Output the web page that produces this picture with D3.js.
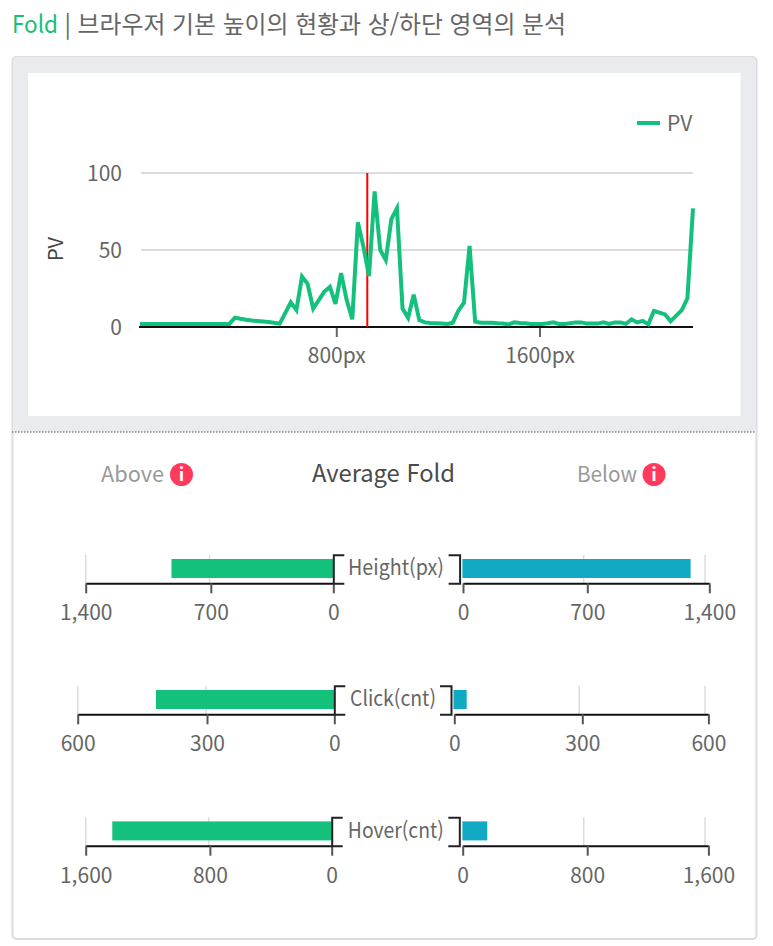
<!DOCTYPE html>
<html lang="ko">
<head>
<meta charset="utf-8">
<script src="https://cdnjs.cloudflare.com/ajax/libs/d3/7.9.0/d3.min.js"></script>
<style>
html,body{margin:0;padding:0;background:#fff;overflow:hidden}
svg{display:block}
text{font-family:"Noto Sans CJK KR","Noto Sans",sans-serif;fill:#666}
</style>
</head>
<body>
<svg id="c" width="773" height="946"></svg>
<script>
// ---- data ----
const titleAccent = "Fold";
const titleRest = "| 브라우저 기본 높이의 현황과 상/하단 영역의 분석";
const pv = [2,2,2,2,2,2,2,2,2,2,2,2,2,2,2,2,2,6,5.3,4.7,4.2,3.9,3.6,3.2,2.7,2.2,9,16,11,32.7,28,12,17.5,23,26,15,35,17.5,5,68,52,33,88,50,43.5,70,77,12,6,21,4.5,3,2.6,2.4,2.2,2,2.8,10.6,15.8,52.6,3.5,2.8,2.8,2.8,2.4,2.2,1.7,3,2.6,2.4,2,2,2,2.4,3,2,2,2.4,3,3,2.2,2.2,2.2,3,2,3,3,2,5,3,4,1.7,10.4,9.3,8.2,3.7,7.4,11,18.6,77];
const seriesName = "PV";
const yTicks = [0,50,100];
const xTickHeights = [800,1600];
const foldHeight = 922;
const categories = ["Height(px)","Click(cnt)","Hover(cnt)"];
const aboveValues = [915,417,1427];
const belowValues = [1317,31.5,164];
const axisMax = [1400,600,1600];

// ---- layout ----
const green="#13c07c", blue="#12a9c2", grid="#dcdcdc";
const svg=d3.select("#c");
const font=(s,size,fill,weight)=>s.style("font-size",size+"px").style("fill",fill).style("font-weight",weight||400);

// title
const t=svg.append("text").attr("x",12).attr("y",33);
font(t,24,"#666");
t.append("tspan").text(titleAccent).style("fill",green).attr("textLength",46).attr("lengthAdjust","spacingAndGlyphs");
t.append("tspan").attr("x",64.5).text(titleRest).attr("textLength",501.5).attr("lengthAdjust","spacingAndGlyphs");

// panel
svg.append("rect").attr("x",12.5).attr("y",57).attr("width",744).attr("height",882).attr("rx",4).attr("fill","#fff").attr("stroke","#dcdcdc").attr("stroke-width",2);
svg.append("path").attr("d","M13.5 432V60a3 3 0 0 1 3-3H752.5a3 3 0 0 1 3 3V432Z").attr("fill","#e9ebef");
svg.append("rect").attr("x",28).attr("y",73).attr("width",712.5).attr("height",343).attr("fill","#fff");
svg.append("line").attr("x1",12).attr("x2",756).attr("y1",432).attr("y2",432).attr("stroke","#888").attr("stroke-width",1.5).attr("stroke-dasharray","1.5 1.5");

// line chart
const x=d3.scaleLinear().domain([0,pv.length-1]).range([140,693]);
const y=d3.scaleLinear().domain([0,100]).range([327,173]);
const xh=d3.scaleLinear().domain([800,1600]).range([336.3,539.5]);
svg.append("g").selectAll("line").data(yTicks.slice(1)).join("line")
  .attr("x1",141).attr("x2",693).attr("y1",d=>y(d)).attr("y2",d=>y(d)).attr("stroke",grid).attr("stroke-width",2);
const gy=svg.append("g").attr("transform","translate(139,0.8)").call(d3.axisLeft(y).tickValues(yTicks).tickSize(0).tickPadding(17));
gy.select(".domain").remove();
font(gy.selectAll("text"),21,"#666");
const gx=svg.append("g").attr("transform","translate(0,327)").call(d3.axisBottom(xh).tickValues(xTickHeights).tickSize(10).tickPadding(11).tickFormat(d=>d+"px"));
gx.select(".domain").remove();
gx.selectAll("line").attr("stroke","#666").attr("stroke-width",2);
font(gx.selectAll("text"),21,"#666");
svg.append("line").attr("x1",139).attr("x2",693).attr("y1",327).attr("y2",327).attr("stroke","#111").attr("stroke-width",2);
svg.append("line").attr("x1",xh(foldHeight)).attr("x2",xh(foldHeight)).attr("y1",y(100)).attr("y2",y(0)).attr("stroke","#ff0000").attr("stroke-width",2);
svg.append("path").datum(pv).attr("fill","none").attr("stroke",green).attr("stroke-width",4).attr("stroke-linejoin","miter")
  .attr("d",d3.line().x((d,i)=>x(i)).y(d=>y(d)));
font(svg.append("text").attr("transform","translate(63,249) rotate(-90)").attr("text-anchor","middle").text(seriesName),20,"#444");
svg.append("line").attr("x1",637).attr("x2",660).attr("y1",123).attr("y2",123).attr("stroke",green).attr("stroke-width",4);
font(svg.append("text").attr("x",667).attr("y",131).text(seriesName),21,"#666");

// header row
function info(cx,cy){
  svg.append("circle").attr("cx",cx).attr("cy",cy).attr("r",11.5).attr("fill","#ff3a5c");
  const s=svg.append("text").attr("x",cx).attr("y",cy+6.5).attr("text-anchor","middle").text("i");
  font(s,18,"#fff",700);
}
font(svg.append("text").attr("x",101).attr("y",482).text("Above").attr("textLength",63).attr("lengthAdjust","spacingAndGlyphs"),22,"#999");
info(181.5,474.5);
font(svg.append("text").attr("x",312).attr("y",482).text("Average Fold").attr("textLength",143).attr("lengthAdjust","spacingAndGlyphs"),24,"#4a4a4a",400);
font(svg.append("text").attr("x",577).attr("y",482).text("Below").attr("textLength",60).attr("lengthAdjust","spacingAndGlyphs"),22,"#999");
info(654,474.5);

// butterfly rows
const rows=[
 {axisY:583.3,lx0:333.3,lxEnd:85.7,lMid:210.8,rb0:462.4,rx0:463,rMid:587.3,rxEnd:709.3,lb:459.6,cx:396,w:96},
 {axisY:714.3,lx0:334.3,lxEnd:77.7,lMid:207,rb0:453.5,rx0:454.3,rMid:582.3,rxEnd:708.4,lb:451,cx:393,w:86},
 {axisY:845.7,lx0:331.7,lxEnd:85.7,lMid:209.9,rb0:462.4,rx0:462.7,rMid:587.2,rxEnd:708.4,lb:459.3,cx:395.8,w:96}
];
categories.forEach((cat,i)=>{
  const r=rows[i], m=axisMax[i];
  const g=svg.append("g");
  const tv=[0,m/2,m];
  const lBar=d3.scaleLinear().domain([0,m]).range([r.lx0,r.lxEnd]);
  const rBar=d3.scaleLinear().domain([0,m]).range([r.rb0,705]);
  const lAxis=d3.scaleLinear().domain(tv).range([r.lx0,r.lMid,r.lxEnd]);
  const rAxis=d3.scaleLinear().domain(tv).range([r.rx0,r.rMid,r.rxEnd]);
  const band=d3.scaleBand().domain([cat]).range([r.axisY-28.5,r.axisY]);
  const top=r.axisY-28.5, barY=r.axisY-24.3, barH=19;
  // grids
  g.selectAll(".gl").data(tv.slice(1)).join("line").attr("x1",d=>lBar(d)).attr("x2",d=>lBar(d)).attr("y1",top).attr("y2",r.axisY).attr("stroke",grid).attr("stroke-width",1.5);
  g.selectAll(".gr").data(tv.slice(1)).join("line").attr("x1",d=>rBar(d)).attr("x2",d=>rBar(d)).attr("y1",top).attr("y2",r.axisY).attr("stroke",grid).attr("stroke-width",1.5);
  // bars
  g.append("rect").attr("x",lBar(aboveValues[i])).attr("width",r.lx0-lBar(aboveValues[i])).attr("y",barY).attr("height",barH).attr("fill",green);
  g.append("rect").attr("x",rBar(0)).attr("width",rBar(belowValues[i])-rBar(0)).attr("y",barY).attr("height",barH).attr("fill",blue);
  // x axes
  [lAxis,rAxis].forEach(sc=>{
    const a=g.append("g").attr("transform",`translate(0,${r.axisY})`)
      .call(d3.axisBottom(sc).tickValues(tv).tickSizeInner(10).tickSizeOuter(0).tickPadding(12).tickFormat(d3.format(",")));
    a.select(".domain").attr("stroke","#111").attr("stroke-width",2);
    a.selectAll("line").attr("stroke","#555").attr("stroke-width",2);
    font(a.selectAll("text"),21,"#666");
  });
  // category brackets
  const yl=g.append("g").attr("transform",`translate(${r.lx0},0)`).call(d3.axisRight(band).tickValues([]).tickSizeOuter(11));
  const yr=g.append("g").attr("transform",`translate(${r.lb},0)`).call(d3.axisLeft(band).tickValues([]).tickSizeOuter(11));
  [yl,yr].forEach(a=>a.select(".domain").attr("stroke","#222").attr("stroke-width",2));
  font(g.append("text").attr("x",r.cx).attr("y",r.axisY-8).attr("text-anchor","middle").text(cat).attr("textLength",r.w).attr("lengthAdjust","spacingAndGlyphs"),21,"#666");
});
</script>
</body>
</html>
